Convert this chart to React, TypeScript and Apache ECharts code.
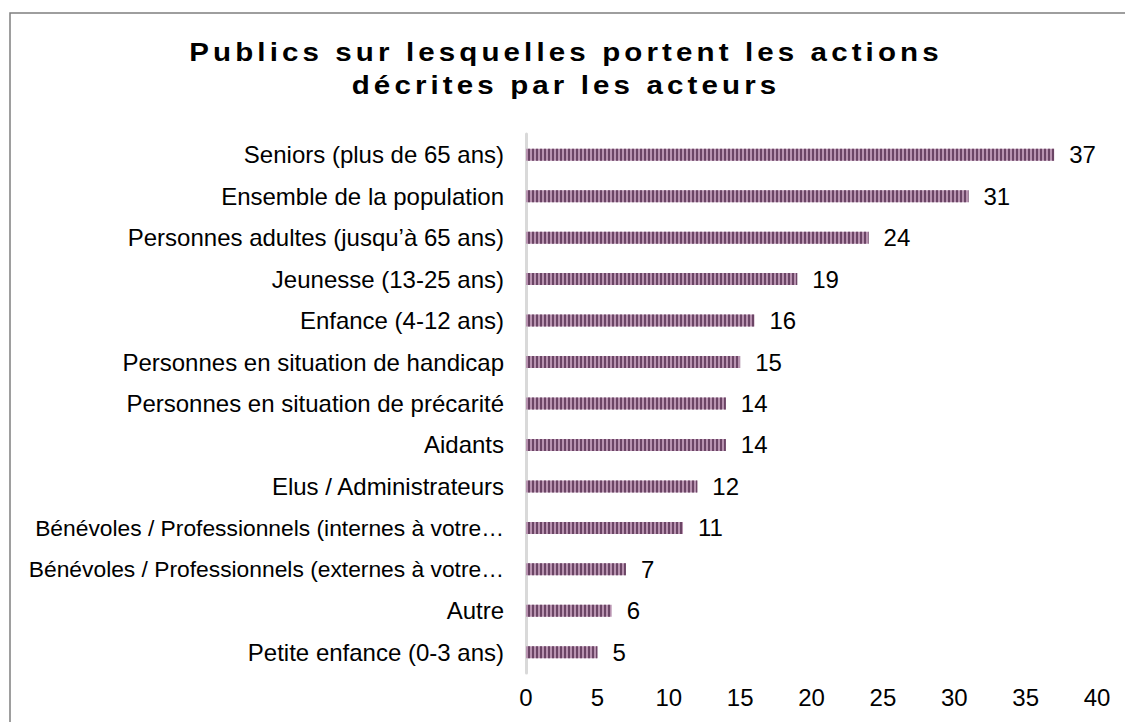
import React, { useEffect, useRef } from "react";
import * as echarts from "echarts";

const categories = [
  "Seniors (plus de 65 ans)",
  "Ensemble de la population",
  "Personnes adultes (jusqu’à 65 ans)",
  "Jeunesse (13-25 ans)",
  "Enfance (4-12 ans)",
  "Personnes en situation de handicap",
  "Personnes en situation de précarité",
  "Aidants",
  "Elus / Administrateurs",
  "Bénévoles / Professionnels (internes à votre…",
  "Bénévoles / Professionnels (externes à votre…",
  "Autre",
  "Petite enfance (0-3 ans)",
];
const values = [37, 31, 24, 19, 16, 15, 14, 14, 12, 11, 7, 6, 5];
const xTicks = { min: 0, max: 40, interval: 5 };
const titleText = "Publics sur lesquelles portent les actions\ndécrites par les acteurs";

const FONT = "Arial, 'Liberation Sans', sans-serif";

export default function App() {
  const ref = useRef<HTMLDivElement>(null);
  useEffect(() => {
    if (!ref.current) return;
    const chart = echarts.init(ref.current, null, { renderer: "svg" });
    chart.setOption({
      animation: false,
      backgroundColor: "#ffffff",
      textStyle: { fontFamily: FONT },
      graphic: [
        {
          type: "rect",
          shape: { x: 10, y: 13, width: 1130, height: 730 },
          style: { fill: "none", stroke: "#7f7f7f", lineWidth: 1.5 },
          silent: true,
        },
        {
          type: "text",
          x: 566,
          y: 36,
          scaleX: 1.18,
          scaleY: 1,
          style: {
            text: titleText,
            fill: "#000000",
            font: "bold 25px " + FONT,
            textAlign: "center",
            textVerticalAlign: "top",
            lineHeight: 33,
          },
        },
      ],
      grid: { left: 526, right: 28, top: 134, bottom: 49, containLabel: false },
      xAxis: {
        type: "value",
        min: xTicks.min,
        max: xTicks.max,
        interval: xTicks.interval,
        axisLine: { show: false },
        axisTick: { show: false },
        splitLine: { show: false },
        axisLabel: { color: "#000000", fontSize: 24, margin: 12 },
      },
      yAxis: {
        type: "category",
        data: categories,
        inverse: true,
        axisLine: { show: true, lineStyle: { color: "#d9d9d9", width: 3 } },
        axisTick: { show: false },
        axisLabel: {
          color: "#000000",
          fontSize: 24,
          margin: 22,
          formatter: (v: string) => (v.length > 40 ? "{s|" + v + "}" : v),
          rich: { s: { fontSize: 22.8, color: "#000000", fontFamily: FONT } },
        },
      },
      series: [
        {
          type: "bar",
          data: values,
          barWidth: 12,
          itemStyle: {
            color: "#b893b0",
            decal: {
              symbol: "rect",
              symbolSize: 1,
              color: "#6b4565",
              dashArrayX: [1.5, 1.5],
              dashArrayY: [4, 0],
              rotation: 0,
            },
          },
          label: {
            show: true,
            position: "right",
            distance: 15,
            color: "#000000",
            fontSize: 24,
          },
        },
      ],
    });
    return () => chart.dispose();
  }, []);
  return (
    <>
      <style>{`.chartbox svg text[style*="bold"] { letter-spacing: 3.5px; }`}</style>
      <div
        className="chartbox"
        ref={ref}
        style={{ position: "fixed", left: 0, top: 0, width: 1125, height: 722 }}
      />
    </>
  );
}
